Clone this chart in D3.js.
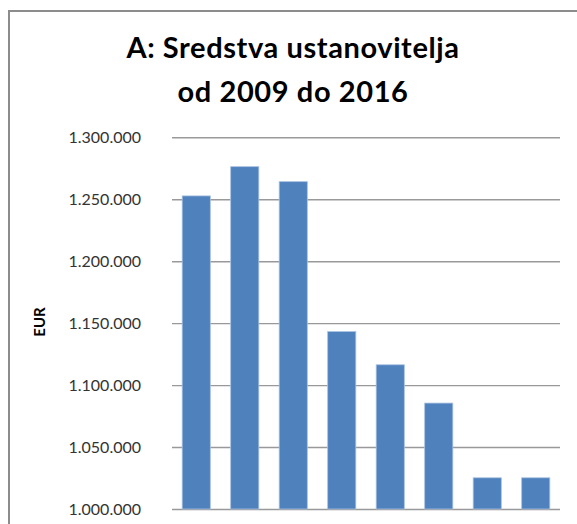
<!DOCTYPE html>
<meta charset="utf-8">
<script src="https://d3js.org/d3.v7.min.js"></script>
<style>
  body { margin: 0; background: #fff; }
</style>
<div id="chart"></div>
<script>
  // data
  var years = ["2009", "2010", "2011", "2012", "2013", "2014", "2015", "2016"];
  var values = [1252700, 1276300, 1264200, 1143200, 1116400, 1085500, 1025200, 1025200];
  var yTicks = [1000000, 1050000, 1100000, 1150000, 1200000, 1250000, 1300000];
  var titleLines = ["A: Sredstva ustanovitelja", "od 2009 do 2016"];

  var width = 577, height = 524;
  var plot = {left: 172, right: 560, top: 137.3, bottom: 509};

  var svg = d3.select("#chart")
    .append("svg")
      .attr("width", width)
      .attr("height", height);

  // outer chart frame (cut off on the right and bottom)
  svg.append("rect")
    .attr("x", 9).attr("y", 11)
    .attr("width", 600).attr("height", 600)
    .attr("fill", "none")
    .attr("stroke", "#8c8c8c")
    .attr("stroke-width", 2);

  // title
  svg.append("g").selectAll("text")
    .data(titleLines)
    .enter()
    .append("text")
      .attr("x", 293)
      .attr("y", function(d, i) { return 58 + i * 44; })
      .attr("text-anchor", "middle")
      .style("font-family", "Lato, 'Open Sans', sans-serif")
      .style("font-weight", "bold")
      .style("font-size", "29px")
      .style("letter-spacing", "0.6px")
      .attr("fill", "#000")
      .text(function(d) { return d; });

  var fmt = d3.formatLocale({decimal: ",", thousands: ".", grouping: [3], currency: ["", " €"]}).format(",d");

  var x = d3.scaleBand()
    .domain(years)
    .range([plot.left, plot.right])
    .paddingInner(0.42)
    .paddingOuter(0.21);

  var y = d3.scaleLinear()
    .domain([1000000, 1300000])
    .range([plot.bottom, plot.top]);

  // gridlines + labels via axisLeft
  var yAxis = svg.append("g")
    .attr("transform", "translate(" + plot.left + ",0)")
    .call(d3.axisLeft(y)
      .tickValues(yTicks)
      .tickSize(-(plot.right - plot.left))
      .tickPadding(31)
      .tickFormat(fmt));
  yAxis.select(".domain").remove();
  yAxis.selectAll(".tick line")
    .attr("stroke", "#999")
    .attr("stroke-width", 1.4);
  yAxis.selectAll(".tick text")
    .attr("fill", "#333")
    .style("font-family", "Lato, 'Open Sans', sans-serif")
    .style("font-size", "16px");

  // bars
  svg.append("g").selectAll("rect")
    .data(values)
    .enter()
    .append("rect")
      .attr("x", function(d, i) { return x(years[i]); })
      .attr("y", function(d) { return y(d); })
      .attr("width", x.bandwidth())
      .attr("height", function(d) { return y(1000000) - y(d); })
      .attr("fill", "#4f81bd")
      .attr("stroke", "#a9c2e2")
      .attr("stroke-width", 0.8);

  // y axis title
  svg.append("text")
    .attr("transform", "translate(45,322) rotate(-90)")
    .attr("text-anchor", "middle")
    .style("font-family", "Lato, 'Open Sans', sans-serif")
    .style("font-weight", "bold")
    .style("font-size", "15px")
    .attr("fill", "#000")
    .text("EUR");
</script>
